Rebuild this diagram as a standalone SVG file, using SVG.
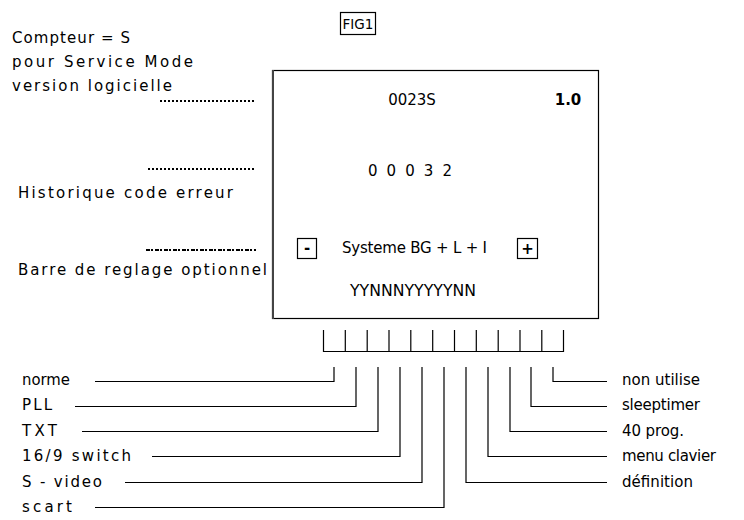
<svg xmlns="http://www.w3.org/2000/svg" width="744" height="520" viewBox="0 0 744 520">
<style>
text{font-family:"DejaVu Sans","Liberation Sans",sans-serif;font-size:15px;fill:#000}
.b{font-weight:bold}
.m{text-anchor:middle}
.ln{stroke:#000;stroke-width:1.2;fill:none}
.dot{stroke:#000;stroke-width:2;stroke-dasharray:2 2;fill:none}
.dash{stroke:#000;stroke-width:2;stroke-dasharray:4 1 2 2;fill:none}
</style>
<rect width="744" height="520" fill="#fff"/>
<g id="fig1">
<rect x="340.5" y="12.5" width="35" height="22" class="ln"/>
<text x="358" y="29" class="m" style="font-size:13.5px">FIG1</text>
</g>
<g id="screen">
<rect x="272.5" y="70.5" width="326" height="248" class="ln"/>
<line x1="273" y1="70" x2="273" y2="319" stroke="#444" stroke-width="2"/>
<text x="412" y="105" class="m">0023S</text>
<text x="568" y="105" class="m b">1.0</text>
<text x="410" y="176" class="m" textLength="84" lengthAdjust="spacing">0 0 0 3 2</text>
<rect x="297.5" y="238.5" width="19" height="20" class="ln"/>
<text x="307" y="253" class="m b">-</text>
<text x="342" y="253" textLength="145" lengthAdjust="spacing">Systeme BG + L + I</text>
<rect x="517.5" y="238.5" width="20" height="20" class="ln"/>
<text x="527.5" y="254" class="m b">+</text>
<text x="413" y="296" class="m" textLength="126" lengthAdjust="spacingAndGlyphs">YYNNNYYYYYNN</text>
</g>
<g id="comb">
<path class="ln" d="M323.5,330V351.5H563.5V330M345.3,330V351.5M367.2,330V351.5M389,330V351.5M410.8,330V351.5M432.7,330V351.5M454.5,330V351.5M476.3,330V351.5M498.2,330V351.5M520,330V351.5M541.8,330V351.5"/>
</g>
<g id="notes">
<text x="12" y="43" textLength="118" lengthAdjust="spacing">Compteur = S</text>
<text x="12" y="67" textLength="181" lengthAdjust="spacing">pour Service Mode</text>
<text x="12" y="91" textLength="160" lengthAdjust="spacing">version logicielle</text>
<text x="18" y="198" textLength="215" lengthAdjust="spacing">Historique code erreur</text>
<text x="18" y="275" textLength="249" lengthAdjust="spacing">Barre de reglage optionnel</text>
</g>
<g id="labels">
<text x="22" y="385" textLength="48" lengthAdjust="spacingAndGlyphs">norme</text>
<text x="22" y="410" textLength="30" lengthAdjust="spacing">PLL</text>
<text x="22" y="436" textLength="35" lengthAdjust="spacing">TXT</text>
<text x="22" y="461" textLength="109" lengthAdjust="spacing">16/9 switch</text>
<text x="22" y="487" textLength="80" lengthAdjust="spacing">S - video</text>
<text x="22" y="512" textLength="50" lengthAdjust="spacing">scart</text>
<text x="622" y="385" textLength="78" lengthAdjust="spacing">non utilise</text>
<text x="622" y="410" textLength="78" lengthAdjust="spacing">sleeptimer</text>
<text x="622" y="436" textLength="62" lengthAdjust="spacing">40 prog.</text>
<text x="622" y="461" textLength="94" lengthAdjust="spacing">menu clavier</text>
<text x="622" y="487" textLength="71" lengthAdjust="spacing">définition</text>
</g>
<g id="connectors">
<line class="dot" x1="160" y1="101" x2="256" y2="101"/>
<line class="dot" x1="148" y1="169" x2="256" y2="169"/>
<line class="dash" x1="146" y1="250" x2="256" y2="250"/>
<path class="ln" d="M334,367V381.5H95"/>
<path class="ln" d="M356,367V406.5H75"/>
<path class="ln" d="M378,367V431.5H82"/>
<path class="ln" d="M400,367V456.5H152"/>
<path class="ln" d="M422,367V482.5H125"/>
<path class="ln" d="M444,367V507.5H95"/>
<path class="ln" d="M466,367V482.5H607"/>
<path class="ln" d="M488,367V456.5H607"/>
<path class="ln" d="M510,367V431.5H607"/>
<path class="ln" d="M531,367V406.5H607"/>
<path class="ln" d="M553,367V381.5H607"/>
</g>
</svg>
